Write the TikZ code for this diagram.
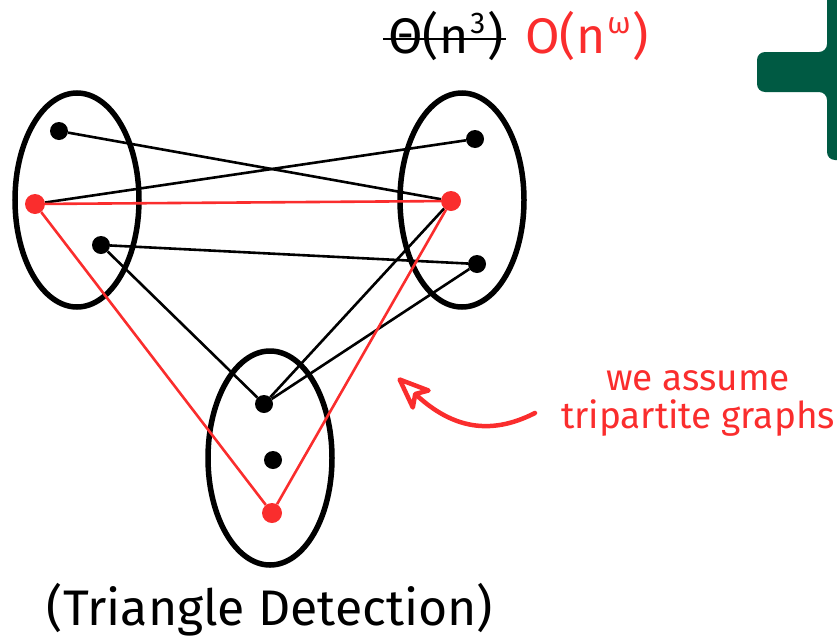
\documentclass[tikz,border=0pt]{standalone}
\usepackage{fontspec}
\setmainfont{Fira Sans}
\usetikzlibrary{shapes.geometric,arrows.meta}
\definecolor{slidered}{RGB}{250,45,45}
\definecolor{slidegreen}{RGB}{0,90,67}
\newcommand\slidesup[1]{\kern2pt\raisebox{20pt}{\fontsize{30}{30}\selectfont #1}\kern2pt}
\begin{document}
\begin{tikzpicture}
   [x=1pt,y=-1pt,
    part/.style={draw,ellipse,line width=5.5pt,minimum width=124pt,minimum height=214pt},
    dot/.style={circle,fill=black,inner sep=0pt,minimum size=18pt},
    reddot/.style={circle,fill=slidered,inner sep=0pt,minimum size=20pt},
    edge/.style={line width=2.6pt},
    rededge/.style={line width=2.6pt,slidered},
    big/.style={font=\fontsize{50}{60}\selectfont,inner sep=0pt,anchor=base},
    note/.style={font=\fontsize{37}{38}\selectfont,text=slidered,inner sep=0pt,anchor=base}]
   \useasboundingbox (0,0) rectangle (837,640);
   \clip (0,0) rectangle (837,640);

   % corner of the logo
   \fill[slidegreen,rounded corners=8pt] (757,52) -- (827,52) -- (827,-20) -- (860,-20)
      -- (860,160) -- (827,160) -- (827,92) -- (757,92) -- cycle;

   % the three parts
   \node[part] (left) at (77,200) {};
   \node[part] (right) at (462,200) {};
   \node[part] (bottom) at (270,458) {};

   \node[dot] (a1) at (59,131) {};
   \node[reddot] (a2) at (35,204) {};
   \node[dot] (a3) at (101,245) {};

   \node[dot] (b1) at (475,139) {};
   \node[reddot] (b2) at (451,201) {};
   \node[dot] (b3) at (477,264) {};

   \node[dot] (c1) at (264,404) {};
   \node[dot] (c2) at (273,460) {};
   \node[reddot] (c3) at (272,513) {};

   \draw[edge] (a1) -- (b2);
   \draw[edge] (a2) -- (b1);
   \draw[edge] (a3) -- (b3);
   \draw[edge] (a3) -- (c1);
   \draw[edge] (b2) -- (c1);
   \draw[edge] (b3) -- (c1);

   \draw[rededge] (a2) -- (b2);
   \draw[rededge] (a2) -- (c3);
   \draw[rededge] (b2) -- (c3);

   % running times
   \node[big,anchor=base west] (theta) at (388,53) {Θ(n\slidesup{3})};
   \node[big,anchor=base west,text=slidered] (omega) at (525,53) {O(n\slidesup{ω})};
   \draw[line width=2.2pt] ([xshift=-5pt,yshift=14pt]theta.base west) -- ([xshift=2pt,yshift=14pt]theta.base east);

   \node[big] (title) at (270,625) {(Triangle Detection)};

   \node[note] (assume) at (698,390) {we assume};
   \node[note] (tripartite) at (698,428) {tripartite graphs};
   \coordinate (tail) at (535,413);
   \coordinate (tip) at (398,378);
   \draw[slidered,line width=4.5pt,line cap=round,
      -{Stealth[open,fill=white,length=40pt,width=32pt,inset=10pt,round]}]
      (tail) .. controls (490,436) and (452,428) .. (tip);
\end{tikzpicture}
\end{document}
